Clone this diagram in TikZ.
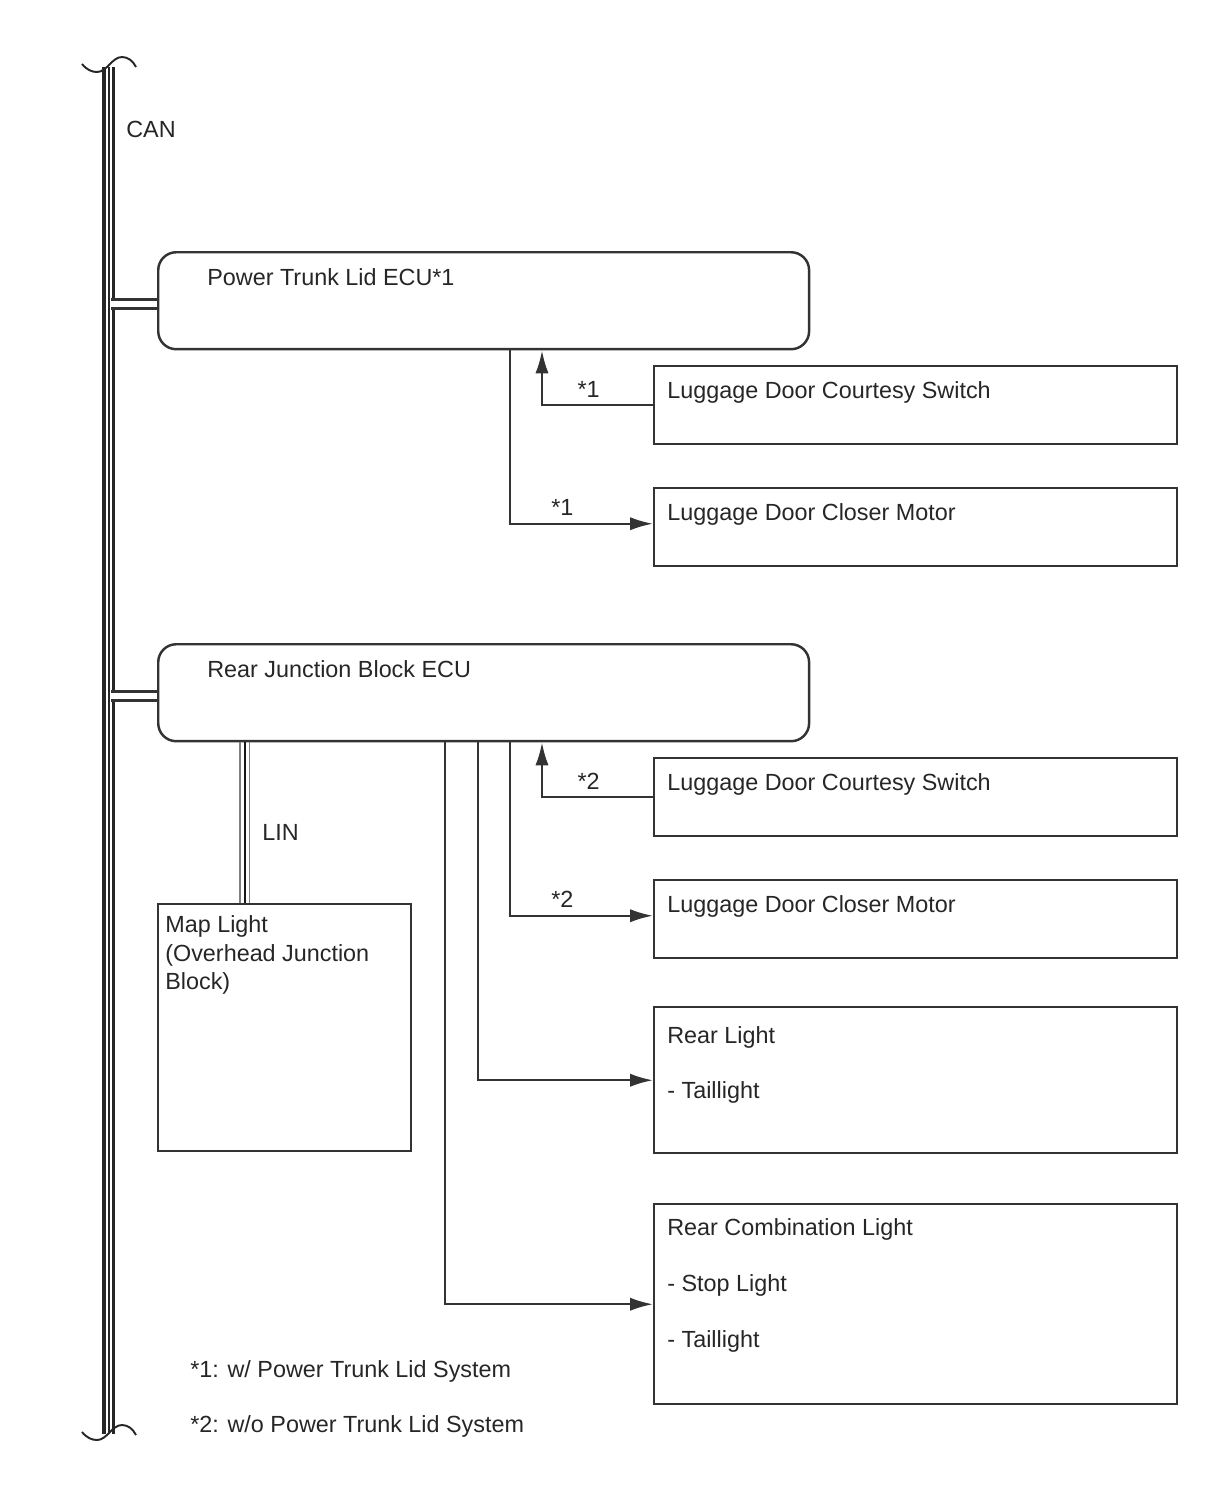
\documentclass[tikz,border=0pt]{standalone}
\usepackage{fontspec}
\setmainfont{Liberation Sans}
\usetikzlibrary{arrows.meta,calc}

\begin{document}
\begin{tikzpicture}[x=.02cm,y=-.02cm,
  every node/.style={inner sep=0pt, text=black!85, font=\fontsize{13.3}{16}\selectfont},
  box/.style={draw=black!80, line width=1.4pt, anchor=north west, minimum width=10.46cm, minimum height=1.56cm},
  ecu/.style={box, rounded corners=.36cm, minimum width=13.02cm, minimum height=1.94cm},
  txt/.style={anchor=base west, align=left},
  mtxt/.style={anchor=north west, align=left},
  lbl/.style={anchor=base, yshift=.16cm},
  arr/.style={draw=black!80, line width=1.3pt, -{Latex[length=13pt,width=7.5pt]}},
  canbr/.style={draw=black!80, line width=1.7pt, double=white, double distance=3.4pt}]
\useasboundingbox (0,0) rectangle (1210,1498);
% CAN-Bus zeichnen
\coordinate (canT) at (110,67);
\coordinate (canB) at (110,1434);
\foreach \dx/\lw in {-6/2.3pt, -1.2/1.4pt, 3.5/1.4pt}
\draw[black!85, line width=\lw] ([xshift=\dx*.02cm]canT) -- ([xshift=\dx*.02cm]canB);
\foreach \y in {0,1368}
\draw[black!85, line width=1.1pt] (82,64+\y) .. controls (87,70+\y) and (92,72+\y) .. (97,72+\y)
  .. controls (107,72+\y) and (112,57+\y) .. (122,57+\y) .. controls (128,57+\y) and (133,61+\y) .. (136,67+\y);
\node[txt] (can) at (126,137) {CAN};

% Steuergeraete
\node[ecu] (ptl) at (157,251) {};
\node[txt] (ptlt) at ([shift={(50,34)}]ptl.north west) {Power Trunk Lid ECU*1};
\node[ecu] (rjb) at (157,643) {};
\node[txt] (rjbt) at ([shift={(50,34)}]rjb.north west) {Rear Junction Block ECU};
\draw[canbr] ([yshift=-.07cm]ptl.west) -- ++(-46,0);
\draw[canbr] ([yshift=-.07cm]rjb.west) -- ++(-46,0);

% Komponenten rechts
\foreach \n/\y/\h/\dy/\bs/\t in {
  ks1/365/78/33/16/{Luggage Door Courtesy Switch},
  sm1/487/78/33/16/{Luggage Door Closer Motor},
  ks2/757/78/33/16/{Luggage Door Courtesy Switch},
  sm2/879/78/33/16/{Luggage Door Closer Motor},
  rl/1006/146/37/31.3/{Rear Light\\- Taillight},
  rcl/1203/200/32/31.8/{Rear Combination Light\\- Stop Light\\- Taillight}}
{
\node[box, minimum height=\h*.02cm] (\n) at (653,\y) {};
\node[mtxt, font=\fontsize{13.3}{\bs}\selectfont] (\n t) at ([shift={(14,\dy-16.8)}]\n.north west) {\t};
}

% Map Light ueber LIN
\node[box, minimum width=5.06cm, minimum height=4.94cm] (map) at (157,903) {};
\node[mtxt, font=\fontsize{13.3}{16.3}\selectfont] (mapt) at ([shift={(8,12.2)}]map.north west) {Map Light\\(Overhead Junction\\Block)};
\foreach \dx/\c in {-5/black!50, 0/black!90, 4.5/black!50}
\draw[\c, line width=1.1pt] ([xshift=(88+\dx)*.02cm]rjb.south west) -- ([xshift=(88+\dx)*.02cm]map.north west);
\node[txt] (lin) at (262,840) {LIN};

% Verbindungen
\draw[arr] (ks1.west) -| node[lbl, pos=.29] (k1) {*1} ($(ptl.south west)+(385,0)$);
\draw[arr] ($(ptl.south west)+(353,0)$) |- node[lbl, pos=.683] (m1) {*1} ([yshift=.07cm]sm1.west);
\draw[arr] (ks2.west) -| node[lbl, pos=.29] (k2) {*2} ($(rjb.south west)+(385,0)$);
\draw[arr] ($(rjb.south west)+(353,0)$) |- node[lbl, pos=.683] (m2) {*2} ([yshift=.07cm]sm2.west);
\draw[arr] ($(rjb.south west)+(321,0)$) |- (rl.west);
\draw[arr] ($(rjb.south west)+(288,0)$) |- (rcl.west);

% Fussnoten
\node[txt] (fn1) at (190,1377) {*1: w/ Power Trunk Lid System};
\node[txt] (fn2) at (190,1432) {*2: w/o Power Trunk Lid System};
\end{tikzpicture}
\end{document}
